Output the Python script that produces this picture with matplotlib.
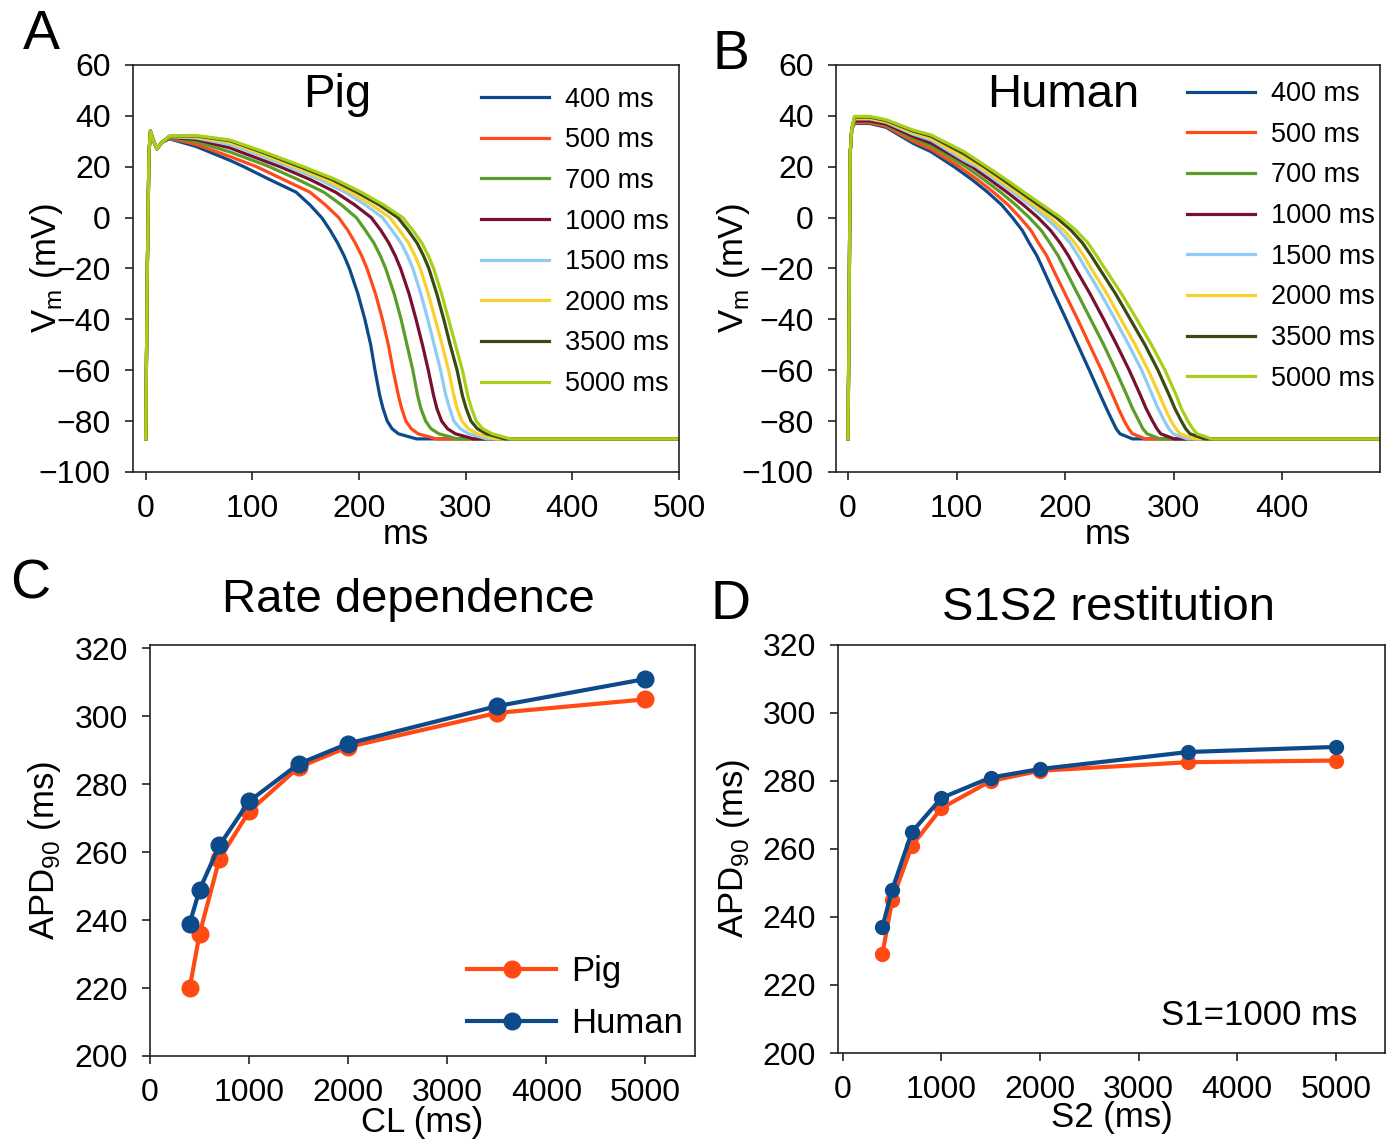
import matplotlib
matplotlib.use('Agg')
import matplotlib.pyplot as plt

plt.rcParams['font.family'] = ['Liberation Sans', 'DejaVu Sans']
plt.rcParams['mathtext.fontset'] = 'custom'
plt.rcParams['mathtext.rm'] = 'Liberation Sans'

# pacing cycle lengths and colours
cl_labels = ['400 ms', '500 ms', '700 ms', '1000 ms', '1500 ms', '2000 ms', '3500 ms', '5000 ms']
cl_colors = ['#0d4a8a', '#ff4a1a', '#5a9e2a', '#7a1030', '#8ecbf5', '#f9d12e', '#3a4a10', '#a8cf1a']

# voltage levels read during repolarisation (mV); each trace lists the time it crosses them
lvl_v = [20, 15, 10, 5, 0, -5, -10, -15, -20, -30, -40, -50, -60, -70, -75, -80, -83, -85, -87]

# ---- Pig action potentials (ms, mV) ----
pig_up_t = [0, 1.5, 3, 4.4, 7, 10.5, 15]
pig_up_v = [-87, -20, 25, 34, 30.5, 27, 29.5]

pig_400_t = [22, 47, 79]
pig_400_v = [31, 28, 22.5]
pig_400_lvl = [92, 116, 141, 154, 165, 173, 180, 186, 191, 199, 205.5, 211, 215, 219.5, 222.5, 226.5, 231, 237, 254]
pig_500_t = [22, 47, 79]
pig_500_v = [31.2, 28.8, 24]
pig_500_lvl = [104, 129, 154, 168.5, 181, 189.5, 196.5, 202.5, 207.5, 215.5, 222, 227.5, 232, 237, 240, 244, 249, 255.5, 272.5]
pig_700_t = [22, 47, 79, 110]
pig_700_v = [31.4, 29.8, 25.8, 21]
pig_700_lvl = [116, 142.5, 167, 183.5, 197.5, 206, 214, 220, 225, 233, 239.5, 245, 250.5, 255, 258, 262.5, 267.5, 275, 292]
pig_1000_t = [22, 47, 79, 110]
pig_1000_v = [31.6, 30.7, 27.4, 22.5]
pig_1000_lvl = [126, 154, 178, 196, 211.5, 220.5, 228, 234, 239, 247, 253.5, 259.5, 265, 270, 273, 277.5, 283, 290.5, 307.5]
pig_1500_t = [22, 47, 79, 110]
pig_1500_v = [31.8, 31.3, 28.7, 24]
pig_1500_lvl = [134, 162.5, 187, 206, 222, 231, 239.5, 245.5, 250.5, 258, 264.5, 270.5, 276.5, 281.5, 285, 289, 295, 303, 320]
pig_2000_t = [22, 47, 79, 110]
pig_2000_v = [31.9, 31.7, 29.5, 24.8]
pig_2000_lvl = [139, 168, 192, 212, 229, 238, 246.5, 252.5, 257.5, 265, 271.5, 278, 284, 289, 292, 296.5, 302.5, 311, 328]
pig_3500_t = [22, 47, 79, 110]
pig_3500_v = [32, 32.1, 30.2, 25.6]
pig_3500_lvl = [144.5, 174.5, 198, 219, 236.5, 246, 254.5, 260.5, 265.5, 273, 279.5, 285.5, 292, 297, 300.5, 305, 311, 319.5, 336.5]
pig_5000_t = [22, 47, 79, 110]
pig_5000_v = [32, 32.3, 30.5, 26]
pig_5000_lvl = [148, 178, 202, 223, 241, 250.5, 259, 265, 270, 277.5, 284, 290.5, 297, 302, 305.5, 310, 316, 325, 342]

# ---- Human action potentials (ms, mV) ----
hum_up_t = [0, 1, 2, 3.5]
hum_up_v = [-87, -40, 25, 35]

hum_400_t = [6, 20, 35, 60, 76.5]
hum_400_v = [37, 37, 35.5, 29.2, 25.9]
hum_400_lvl = [97.7, 114, 128.6, 141.5, 151.5, 160.5, 167, 174, 179.4, 190, 200.9, 211.6, 222.3, 232.7, 238, 243.6, 247, 250.5, 262]
hum_500_t = [6, 20, 35, 60, 76.5]
hum_500_v = [37.3, 37.3, 35.9, 30, 26.9]
hum_500_lvl = [102.5, 119, 134, 147.5, 158.5, 168.5, 175.5, 183, 188.5, 200, 211.5, 222.5, 233.5, 244, 249, 254.5, 258.5, 262, 274]
hum_700_t = [6, 20, 35, 60, 76.5]
hum_700_v = [37.8, 37.8, 36.5, 31, 28.2]
hum_700_lvl = [108.5, 125, 140.5, 154.5, 167, 178, 186, 193.5, 199.5, 211.5, 223.5, 235.5, 246.5, 257, 262, 268, 271.5, 275.5, 287.5]
hum_1000_t = [6, 20, 35, 60, 76.5]
hum_1000_v = [38, 38, 36.8, 31.9, 29.3]
hum_1000_lvl = [114, 130.5, 146.5, 161.5, 175, 186.5, 195.5, 203, 209.5, 223, 235.5, 247.5, 259, 269.5, 274.5, 280.5, 284.5, 288, 300.5]
hum_1500_t = [6, 20, 35, 60, 76.5, 107]
hum_1500_v = [38.8, 38.8, 37.5, 32.8, 30.5, 22.5]
hum_1500_lvl = [118.5, 135.5, 152, 167.5, 182, 194.5, 204.5, 212, 219, 233, 246, 258.5, 270.5, 280.5, 285.5, 291.5, 295.5, 299.5, 312.5]
hum_2000_t = [6, 20, 35, 60, 76.5, 107]
hum_2000_v = [39, 39, 37.8, 33.3, 31.2, 23.5]
hum_2000_lvl = [121.5, 138.5, 155, 171, 186, 199, 209, 217, 224, 238.5, 251.5, 264.5, 276.5, 287, 292, 297.5, 302, 306, 319]
hum_3500_t = [6, 20, 35, 60, 76.5, 107]
hum_3500_v = [39.5, 39.5, 38.2, 34, 32, 25]
hum_3500_lvl = [125.5, 142.5, 159, 175.5, 192, 205.5, 216, 224, 231.5, 246.5, 260, 273.5, 285.5, 296, 301, 307, 311, 315, 328.5]
hum_5000_t = [6, 20, 35, 60, 76.5, 107]
hum_5000_v = [39.8, 39.8, 38.5, 34.4, 32.5, 25.9]
hum_5000_lvl = [128, 145.5, 162, 179, 196, 210, 221, 229, 236.5, 252, 266, 279.5, 292, 302.5, 307, 313, 317.5, 321.5, 335]

# ---- APD90 data ----
cl = [400, 500, 700, 1000, 1500, 2000, 3500, 5000]
apd_rate_pig = [220, 236, 258, 272, 285, 291, 301, 305]
apd_rate_human = [239, 249, 262, 275, 286, 292, 303, 311]
s2 = [400, 500, 700, 1000, 1500, 2000, 3500, 5000]
apd_s1s2_pig = [229, 245, 261, 272, 280, 283, 285.5, 286]
apd_s1s2_human = [237, 248, 265, 275, 281, 283.5, 288.5, 290]

pig_color = '#ff4a14'
human_color = '#0d4a8a'

pig_traces = [(pig_400_t, pig_400_v, pig_400_lvl), (pig_500_t, pig_500_v, pig_500_lvl),
              (pig_700_t, pig_700_v, pig_700_lvl), (pig_1000_t, pig_1000_v, pig_1000_lvl),
              (pig_1500_t, pig_1500_v, pig_1500_lvl), (pig_2000_t, pig_2000_v, pig_2000_lvl),
              (pig_3500_t, pig_3500_v, pig_3500_lvl), (pig_5000_t, pig_5000_v, pig_5000_lvl)]
hum_traces = [(hum_400_t, hum_400_v, hum_400_lvl), (hum_500_t, hum_500_v, hum_500_lvl),
              (hum_700_t, hum_700_v, hum_700_lvl), (hum_1000_t, hum_1000_v, hum_1000_lvl),
              (hum_1500_t, hum_1500_v, hum_1500_lvl), (hum_2000_t, hum_2000_v, hum_2000_lvl),
              (hum_3500_t, hum_3500_v, hum_3500_lvl), (hum_5000_t, hum_5000_v, hum_5000_lvl)]

fig = plt.figure(figsize=(13.92, 11.4), dpi=100)
axA = fig.add_axes([0.0955, 0.586, 0.3922, 0.357])
axB = fig.add_axes([0.6006, 0.586, 0.3908, 0.357])
axC = fig.add_axes([0.1078, 0.0737, 0.3915, 0.3605])
axD = fig.add_axes([0.602, 0.0763, 0.393, 0.358])


def style(ax):
    for s in ax.spines.values():
        s.set_linewidth(1.2)
        s.set_color('#222222')
    ax.tick_params(labelsize=23, length=6, width=1.2, pad=10, colors='#222222',
                   labelcolor='black', top=False, right=False)


def plot_traces(ax, up_t, up_v, traces):
    for (t, v, lt), c, lab in zip(traces, cl_colors, cl_labels):
        ax.plot(up_t + t + lt + [500], up_v + v + lvl_v + [-87], color=c, lw=2.3, label=lab)


plot_traces(axA, pig_up_t, pig_up_v, pig_traces)
axA.set_xlim(-12, 500)
axA.set_ylim(-100, 60)
axA.set_xticks([0, 100, 200, 300, 400, 500])
axA.set_yticks(range(-100, 61, 20))
style(axA)
axA.text(0.374, 0.926, 'Pig', transform=axA.transAxes, fontsize=34, ha='center', va='center')
axA.legend(loc='upper right', bbox_to_anchor=(1.022, 1.0), frameon=False, fontsize=19.5,
           handlelength=2.5, handletextpad=0.6, labelspacing=0.54, borderaxespad=0.4)
axA.set_xlabel('ms', fontsize=25)
axA.xaxis.set_label_coords(0.5, -0.112)
axA.set_ylabel(r'V$_\mathrm{m}$ (mV)', fontsize=25)
axA.yaxis.set_label_coords(-0.125, 0.5)

plot_traces(axB, hum_up_t, hum_up_v, hum_traces)
axB.set_xlim(-11, 490)
axB.set_ylim(-100, 60)
axB.set_xticks([0, 100, 200, 300, 400])
axB.set_yticks(range(-100, 61, 20))
style(axB)
axB.text(0.417, 0.926, 'Human', transform=axB.transAxes, fontsize=34, ha='center', va='center')
axB.legend(loc='upper right', bbox_to_anchor=(1.02, 1.0), frameon=False, fontsize=19.5,
           handlelength=2.5, handletextpad=0.6, labelspacing=0.54, borderaxespad=0.2)
axB.set_xlabel('ms', fontsize=25)
axB.xaxis.set_label_coords(0.5, -0.112)
axB.set_ylabel(r'V$_\mathrm{m}$ (mV)', fontsize=25)
axB.yaxis.set_label_coords(-0.155, 0.5)

axC.plot(cl, apd_rate_pig, '-o', color=pig_color, lw=3, ms=12, label='Pig')
axC.plot(cl, apd_rate_human, '-o', color=human_color, lw=3, ms=12, label='Human')
axC.set_xlim(0, 5500)
axC.set_ylim(200, 321)
axC.set_xticks([0, 1000, 2000, 3000, 4000, 5000])
axC.set_yticks(range(200, 321, 20))
style(axC)
axC.legend(loc='lower right', bbox_to_anchor=(1.017, -0.012), frameon=False, fontsize=25,
           handlelength=2.55, handletextpad=0.45, labelspacing=0.55, borderaxespad=0.2)
axC.set_xlabel('CL (ms)', fontsize=25)
axC.xaxis.set_label_coords(0.5, -0.122)
axC.set_ylabel(r'APD$_{90}$ (ms)', fontsize=25)
axC.yaxis.set_label_coords(-0.16, 0.5)

axD.plot(s2, apd_s1s2_pig, '-o', color=pig_color, lw=3, ms=10)
axD.plot(s2, apd_s1s2_human, '-o', color=human_color, lw=3, ms=10)
axD.set_xlim(-50, 5500)
axD.set_ylim(200, 320)
axD.set_xticks([0, 1000, 2000, 3000, 4000, 5000])
axD.set_yticks(range(200, 321, 20))
style(axD)
axD.text(0.949, 0.093, 'S1=1000 ms', transform=axD.transAxes, fontsize=25, ha='right', va='center')
axD.set_xlabel('S2 (ms)', fontsize=25)
axD.xaxis.set_label_coords(0.5, -0.118)
axD.set_ylabel(r'APD$_{90}$ (ms)', fontsize=25)
axD.yaxis.set_label_coords(-0.157, 0.5)

fig.text(0.2931, 0.4737, 'Rate dependence', fontsize=34, ha='center', va='center')
fig.text(0.796, 0.4667, 'S1S2 restitution', fontsize=34, ha='center', va='center')

fig.text(0.0295, 0.969, 'A', fontsize=40, ha='center', va='center')
fig.text(0.525, 0.952, 'B', fontsize=40, ha='center', va='center')
fig.text(0.0215, 0.487, 'C', fontsize=40, ha='center', va='center')
fig.text(0.525, 0.469, 'D', fontsize=40, ha='center', va='center')

fig.savefig('out.png', dpi=100)
